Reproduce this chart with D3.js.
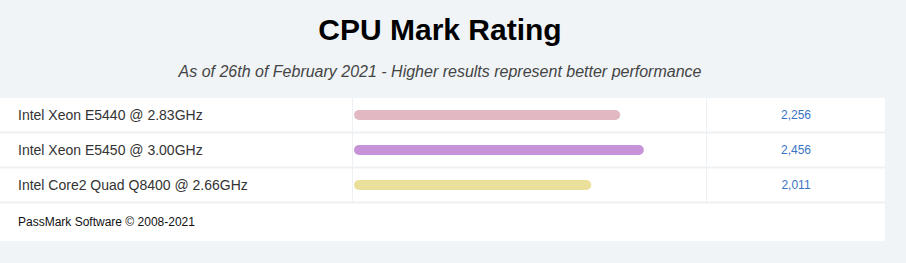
<!DOCTYPE html>
<html>
<head>
<meta charset="utf-8">
<script src="https://cdn.jsdelivr.net/npm/d3@7"></script>
<style>
  body { margin: 0; background: #f0f4f7; }
  svg { display: block; font-family: "Liberation Sans", Arial, sans-serif; }
</style>
</head>
<body>
<div id="chart"></div>
<script>
// Our canvas
const width = 906,
  height = 263

const cpus = ['Intel Xeon E5440 @ 2.83GHz', 'Intel Xeon E5450 @ 3.00GHz', 'Intel Core2 Quad Q8400 @ 2.66GHz']
const scores = [2256, 2456, 2011]
const barColors = ['#e2b9c2', '#c892d8', '#ebdf9c']

const tableTop = 98,
  rowH = 35,
  tableW = 885

const xScale = d3.scaleLinear()
  .domain([0, 3000])
  .range([354, 708])

const yScale = d3.scaleBand()
  .domain(cpus)
  .range([tableTop, tableTop + rowH * cpus.length])

let svg = d3.select('#chart')
  .append('svg')
  .attr('width', width)
  .attr('height', height)

svg.append('rect')
  .attr('width', width).attr('height', height)
  .attr('fill', '#f0f4f7')

// titles
svg.append('text')
  .attr('x', 440).attr('y', 40)
  .attr('text-anchor', 'middle')
  .attr('font-size', 30).attr('font-weight', 'bold')
  .attr('fill', '#000')
  .text('CPU Mark Rating')

svg.append('text')
  .attr('x', 440).attr('y', 77)
  .attr('text-anchor', 'middle')
  .attr('font-size', 16).attr('font-style', 'italic')
  .attr('fill', '#444')
  .text('As of 26th of February 2021 - Higher results represent better performance')

// table body
svg.append('rect')
  .attr('x', 0).attr('y', tableTop)
  .attr('width', tableW).attr('height', 143)
  .attr('fill', '#fff')

// row separators
svg.selectAll('line.row')
  .data(cpus)
  .enter()
  .append('line')
  .attr('class', 'row')
  .attr('x1', 0).attr('x2', tableW)
  .attr('y1', d => yScale(d) + rowH - 0.5)
  .attr('y2', d => yScale(d) + rowH - 0.5)
  .attr('stroke', '#edf1f4').attr('stroke-width', 2)

// column separators
;[352, 706].forEach(x => {
  svg.append('line')
    .attr('x1', x + 0.5).attr('x2', x + 0.5)
    .attr('y1', tableTop).attr('y2', tableTop + rowH * cpus.length - 1)
    .attr('stroke', '#edf1f4').attr('stroke-width', 1)
})

// labels
svg.selectAll('text.label')
  .data(cpus)
  .enter()
  .append('text')
  .attr('class', 'label')
  .attr('x', 18)
  .attr('y', d => yScale(d) + rowH / 2 - 0.5)
  .attr('dy', '0.35em')
  .attr('font-size', 14)
  .attr('fill', '#333')
  .text(d => d)

// bars
svg.selectAll('rect.bar')
  .data(scores)
  .enter()
  .append('rect')
  .attr('class', 'bar')
  .attr('x', xScale(0))
  .attr('y', (d, i) => yScale(cpus[i]) + rowH / 2 - 5.5)
  .attr('width', d => xScale(d) - xScale(0))
  .attr('height', 10)
  .attr('rx', 5)
  .attr('fill', (d, i) => barColors[i])

// values
svg.selectAll('text.value')
  .data(scores)
  .enter()
  .append('text')
  .attr('class', 'value')
  .attr('x', 796)
  .attr('y', (d, i) => yScale(cpus[i]) + rowH / 2 - 0.5)
  .attr('dy', '0.35em')
  .attr('text-anchor', 'middle')
  .attr('font-size', 12)
  .attr('fill', '#3b73c4')
  .text(d => d3.format(',')(d))

// footer
svg.append('text')
  .attr('x', 18).attr('y', 226)
  .attr('font-size', 12)
  .attr('fill', '#111')
  .text('PassMark Software © 2008-2021')
</script>
</body>
</html>
